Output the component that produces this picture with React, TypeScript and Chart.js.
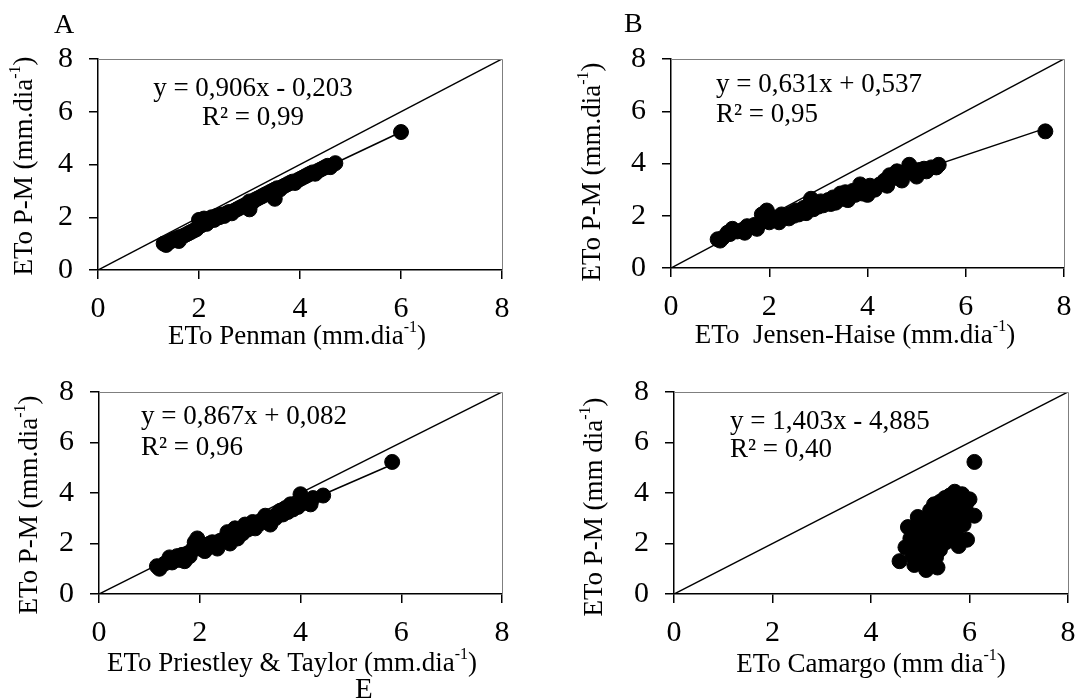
import React, { useEffect, useRef } from 'react';
import { Chart, registerables } from 'chart.js';

Chart.register(...registerables);

const FONT = "'Liberation Serif', 'Times New Roman', serif";

// ---- data ----
const tickValues = [0, 2, 4, 6, 8];
const identityLine: [number, number][] = [[0, 0], [8, 8]];

const penmanPoints: [number, number][] = [
  [1.30, 1.00], [1.35, 0.95], [1.40, 1.05], [1.45, 1.10], [1.50, 1.15], [1.55, 1.20], [1.60, 1.10], [1.62, 1.25],
  [1.70, 1.30], [1.75, 1.35], [1.80, 1.40], [1.85, 1.45], [1.90, 1.50], [1.95, 1.55], [2.00, 1.65], [2.00, 1.90],
  [2.05, 1.70], [2.10, 1.80], [2.10, 1.95], [2.15, 1.75], [2.20, 1.85], [2.25, 2.00], [2.30, 1.90], [2.35, 2.05],
  [2.40, 2.00], [2.45, 2.10], [2.50, 2.05], [2.55, 2.15], [2.60, 2.20], [2.65, 2.15], [2.70, 2.25], [2.75, 2.30],
  [2.80, 2.35], [2.85, 2.40], [2.90, 2.45], [2.95, 2.50], [3.00, 2.30], [3.00, 2.60], [3.05, 2.55], [3.10, 2.65],
  [3.15, 2.70], [3.20, 2.75], [3.25, 2.80], [3.30, 2.85], [3.35, 2.90], [3.40, 2.95], [3.45, 3.00], [3.50, 2.70],
  [3.50, 3.05], [3.55, 3.10], [3.60, 3.05], [3.65, 3.15], [3.70, 3.20], [3.75, 3.25], [3.80, 3.30], [3.85, 3.35],
  [3.90, 3.30], [3.95, 3.40], [4.00, 3.45], [4.05, 3.50], [4.10, 3.55], [4.15, 3.60], [4.20, 3.65], [4.25, 3.70],
  [4.30, 3.65], [4.35, 3.75], [4.40, 3.80], [4.45, 3.85], [4.50, 3.90], [4.55, 3.95], [4.60, 3.90], [4.70, 4.05],
  [6.00, 5.23],
];
const penmanTrend: [number, number][] = [[1.30, 0.975], [6.00, 5.233]];

const jensenPoints: [number, number][] = [
  [0.95, 1.10], [1.00, 1.05], [1.05, 1.15], [1.15, 1.35], [1.20, 1.30], [1.25, 1.50], [1.35, 1.40], [1.45, 1.45],
  [1.50, 1.35], [1.55, 1.60], [1.60, 1.55], [1.70, 1.65], [1.75, 1.50], [1.80, 1.70], [1.85, 2.05], [1.90, 1.80],
  [1.95, 2.20], [2.00, 1.75], [2.05, 1.95], [2.10, 1.85], [2.20, 1.75], [2.25, 2.05], [2.30, 1.95], [2.40, 1.90],
  [2.45, 2.10], [2.50, 2.00], [2.55, 2.20], [2.60, 2.05], [2.70, 2.30], [2.75, 2.10], [2.80, 2.40], [2.85, 2.65],
  [2.90, 2.25], [2.95, 2.50], [3.00, 2.35], [3.05, 2.55], [3.10, 2.40], [3.20, 2.60], [3.25, 2.45], [3.30, 2.70],
  [3.35, 2.50], [3.45, 2.85], [3.50, 2.65], [3.55, 2.90], [3.60, 2.60], [3.70, 2.95], [3.75, 2.80], [3.85, 3.20],
  [3.90, 2.85], [3.95, 3.05], [4.00, 2.80], [4.05, 3.15], [4.15, 3.00], [4.25, 3.20], [4.35, 3.35], [4.40, 3.15],
  [4.45, 3.55], [4.55, 3.45], [4.60, 3.70], [4.70, 3.35], [4.75, 3.60], [4.85, 3.95], [4.90, 3.65], [5.00, 3.50],
  [5.05, 3.75], [5.15, 3.80], [5.20, 3.70], [5.30, 3.85], [5.40, 3.85], [5.45, 3.95], [7.62, 5.23],
];
const jensenTrend: [number, number][] = [[0.95, 1.136], [7.62, 5.345]];

const priestleyPoints: [number, number][] = [
  [1.15, 1.10], [1.20, 1.00], [1.30, 1.20], [1.40, 1.45], [1.45, 1.25], [1.50, 1.40], [1.55, 1.50], [1.60, 1.35],
  [1.65, 1.55], [1.70, 1.30], [1.75, 1.60], [1.80, 1.50], [1.85, 1.75], [1.90, 2.05], [1.95, 2.20], [2.00, 1.80],
  [2.05, 1.95], [2.10, 1.70], [2.15, 1.85], [2.20, 2.00], [2.25, 2.05], [2.30, 1.90], [2.35, 1.80], [2.40, 2.10],
  [2.50, 2.15], [2.55, 2.45], [2.60, 2.00], [2.65, 2.35], [2.70, 2.60], [2.75, 2.20], [2.80, 2.50], [2.85, 2.40],
  [2.90, 2.75], [2.95, 2.55], [3.00, 2.65], [3.05, 2.85], [3.10, 2.60], [3.20, 2.80], [3.25, 2.95], [3.30, 3.10],
  [3.35, 2.85], [3.40, 2.75], [3.45, 3.05], [3.50, 3.00], [3.55, 3.20], [3.60, 3.30], [3.65, 3.15], [3.70, 3.40],
  [3.75, 3.25], [3.80, 3.55], [3.85, 3.35], [3.90, 3.50], [3.95, 3.45], [4.00, 3.95], [4.05, 3.60], [4.10, 3.70],
  [4.20, 3.55], [4.25, 3.80], [4.45, 3.90], [5.82, 5.23],
];
const priestleyTrend: [number, number][] = [[1.15, 1.079], [5.82, 5.128]];

const camargoPoints: [number, number][] = [
  [4.58, 1.30], [4.70, 1.85], [4.75, 2.65], [4.80, 2.20], [4.85, 1.50], [4.88, 1.15], [4.90, 2.50], [4.95, 3.05],
  [4.95, 1.90], [5.00, 2.30], [5.00, 1.40], [5.05, 2.70], [5.05, 1.75], [5.10, 2.10], [5.12, 0.95], [5.15, 2.90],
  [5.15, 1.55], [5.20, 3.30], [5.20, 2.45], [5.22, 1.25], [5.25, 2.00], [5.28, 3.55], [5.30, 2.75], [5.32, 1.45],
  [5.35, 1.05], [5.35, 3.10], [5.38, 2.30], [5.40, 3.65], [5.40, 1.75], [5.45, 2.60], [5.45, 3.35], [5.50, 3.80],
  [5.50, 2.95], [5.52, 2.05], [5.55, 3.50], [5.58, 2.40], [5.60, 3.90], [5.60, 3.15], [5.65, 2.70], [5.68, 3.60],
  [5.70, 4.05], [5.72, 2.25], [5.75, 3.30], [5.78, 1.90], [5.80, 3.75], [5.82, 2.85], [5.85, 3.95], [5.88, 2.75],
  [5.92, 3.45], [5.95, 2.15], [6.00, 3.75], [6.10, 3.10], [5.10, 1.70], [5.20, 2.70], [5.30, 2.20], [5.40, 2.95],
  [5.50, 3.30], [5.60, 2.90], [5.45, 2.00], [5.25, 1.65], [5.05, 2.45], [5.65, 3.40], [5.30, 3.25], [5.55, 2.55],
  [5.00, 1.60], [5.15, 1.35], [5.70, 3.05], [5.90, 3.20], [5.75, 2.55], [6.10, 5.23],
];
const camargoTrend: [number, number][] = [[4.58, 1.541], [6.10, 3.673]];

const equationsA = ['y = 0,906x - 0,203', 'R² = 0,99'];
const equationsB = ['y = 0,631x + 0,537', 'R² = 0,95'];
const equationsC = ['y = 0,867x + 0,082', 'R² = 0,96'];
const equationsD = ['y = 1,403x - 4,885', 'R² = 0,40'];

type Part = { t: string; sup?: boolean };
const yTitleMm: Part[] = [{ t: 'ETo P-M (mm.dia' }, { t: '-1', sup: true }, { t: ')' }];
const yTitleMmSpace: Part[] = [{ t: 'ETo P-M (mm dia' }, { t: '-1', sup: true }, { t: ')' }];
const xTitleA: Part[] = [{ t: 'ETo Penman (mm.dia' }, { t: '-1', sup: true }, { t: ')' }];
const xTitleB: Part[] = [{ t: 'ETo  Jensen-Haise (mm.dia' }, { t: '-1', sup: true }, { t: ')' }];
const xTitleC: Part[] = [{ t: 'ETo Priestley & Taylor (mm.dia' }, { t: '-1', sup: true }, { t: ')' }];
const xTitleD: Part[] = [{ t: 'ETo Camargo (mm dia' }, { t: '-1', sup: true }, { t: ')' }];

interface Spec {
  canvas: { left: number; top: number; w: number; h: number };
  area: { l: number; t: number; r: number; b: number };
  points: [number, number][];
  trend: [number, number][];
  eq: string[];
  eqAlign: 'left' | 'center';
  eqX: number;
  eqY: number[];
  xTitle: Part[];
  xTitlePos: [number, number];
  yTitle: Part[];
  yTitlePos: [number, number];
  letters: { text: string; x: number; y: number; align: 'left' | 'center'; size: number }[];
}

const specs: Spec[] = [
  {
    canvas: { left: 0, top: 0, w: 540, h: 350 },
    area: { l: 98, t: 59, r: 502, b: 270 },
    points: penmanPoints, trend: penmanTrend,
    eq: equationsA, eqAlign: 'center', eqX: 253, eqY: [89, 118],
    xTitle: xTitleA, xTitlePos: [297, 337],
    yTitle: yTitleMm, yTitlePos: [25, 166],
    letters: [{ text: 'A', x: 64, y: 33, align: 'center', size: 28 }],
  },
  {
    canvas: { left: 540, top: 0, w: 540, h: 350 },
    area: { l: 671, t: 59, r: 1064, b: 268 },
    points: jensenPoints, trend: jensenTrend,
    eq: equationsB, eqAlign: 'left', eqX: 716, eqY: [85, 115],
    xTitle: xTitleB, xTitlePos: [855, 336],
    yTitle: yTitleMm, yTitlePos: [593, 172],
    letters: [{ text: 'B', x: 624, y: 32, align: 'left', size: 28 }],
  },
  {
    canvas: { left: 0, top: 350, w: 540, h: 349 },
    area: { l: 99, t: 392, r: 502, b: 594 },
    points: priestleyPoints, trend: priestleyTrend,
    eq: equationsC, eqAlign: 'left', eqX: 141, eqY: [417, 448],
    xTitle: xTitleC, xTitlePos: [292, 664],
    yTitle: yTitleMm, yTitlePos: [30, 505],
    letters: [{ text: 'E', x: 355, y: 698, align: 'left', size: 29 }],
  },
  {
    canvas: { left: 540, top: 350, w: 540, h: 349 },
    area: { l: 674, t: 392, r: 1068, b: 594 },
    points: camargoPoints, trend: camargoTrend,
    eq: equationsD, eqAlign: 'left', eqX: 730, eqY: [422, 450],
    xTitle: xTitleD, xTitlePos: [871, 665],
    yTitle: yTitleMmSpace, yTitlePos: [595, 507],
    letters: [],
  },
];

const TITLE_SIZE = 27;
const TICK_SIZE = 30;
const EQ_SIZE = 27;

function drawParts(ctx: CanvasRenderingContext2D, parts: Part[], cx: number, cy: number, size: number) {
  const supSize = Math.round(size * 0.6);
  const widths = parts.map((p) => {
    ctx.font = `${p.sup ? supSize : size}px ${FONT}`;
    return ctx.measureText(p.t).width;
  });
  const total = widths.reduce((a, b) => a + b, 0);
  let x = cx - total / 2;
  ctx.textAlign = 'left';
  ctx.textBaseline = 'middle';
  parts.forEach((p, i) => {
    ctx.font = `${p.sup ? supSize : size}px ${FONT}`;
    ctx.fillText(p.t, x, p.sup ? cy - size * 0.33 : cy);
    x += widths[i];
  });
}

function Panel({ spec }: { spec: Spec }) {
  const ref = useRef<HTMLCanvasElement | null>(null);
  useEffect(() => {
    const canvas = ref.current;
    if (!canvas) return;
    const { canvas: c, area: a } = spec;
    const yWidth = a.l - c.left;
    const xHeight = c.top + c.h - a.b;
    const decor = {
      id: 'decor',
      afterDraw(chart: any) {
        const ctx: CanvasRenderingContext2D = chart.ctx;
        const ca = chart.chartArea;
        ctx.save();
        ctx.strokeStyle = '#7f7f7f';
        ctx.lineWidth = 1;
        ctx.beginPath();
        ctx.moveTo(ca.left, Math.round(ca.top) + 0.5);
        ctx.lineTo(Math.round(ca.right) + 0.5, Math.round(ca.top) + 0.5);
        ctx.lineTo(Math.round(ca.right) + 0.5, ca.bottom);
        ctx.stroke();
        ctx.fillStyle = '#000';
        ctx.font = `${EQ_SIZE}px ${FONT}`;
        ctx.textAlign = spec.eqAlign;
        ctx.textBaseline = 'middle';
        spec.eq.forEach((line, i) => {
          ctx.fillText(line, spec.eqX - c.left, spec.eqY[i] - c.top);
        });
        drawParts(ctx, spec.xTitle, spec.xTitlePos[0] - c.left, spec.xTitlePos[1] - c.top, TITLE_SIZE);
        ctx.save();
        ctx.translate(spec.yTitlePos[0] - c.left, spec.yTitlePos[1] - c.top);
        ctx.rotate(-Math.PI / 2);
        drawParts(ctx, spec.yTitle, 0, 0, TITLE_SIZE);
        ctx.restore();
        spec.letters.forEach((l) => {
          ctx.font = `${l.size}px ${FONT}`;
          ctx.textAlign = l.align;
          ctx.textBaseline = 'alphabetic';
          ctx.fillText(l.text, l.x - c.left, l.y - c.top);
        });
        ctx.restore();
      },
    };
    const toXY = (arr: [number, number][]) => arr.map(([x, y]) => ({ x, y }));
    const chart = new Chart(canvas, {
      type: 'scatter',
      data: {
        datasets: [
          {
            data: toXY(spec.points),
            pointRadius: 7.5,
            pointHoverRadius: 7.5,
            backgroundColor: '#000',
            borderColor: '#000',
            borderWidth: 1,
            showLine: false,
          },
          {
            data: toXY(spec.trend),
            showLine: true,
            pointRadius: 0,
            borderColor: '#000',
            borderWidth: 1.5,
          },
          {
            data: toXY(identityLine),
            showLine: true,
            pointRadius: 0,
            borderColor: '#000',
            borderWidth: 1.5,
          },
        ],
      } as any,
      options: {
        responsive: false,
        animation: false,
        events: [],
        layout: {
          padding: {
            left: 0,
            top: a.t - c.top,
            right: c.left + c.w - a.r,
            bottom: 0,
          },
        },
        plugins: { legend: { display: false }, tooltip: { enabled: false } },
        scales: {
          x: {
            type: 'linear',
            position: 'bottom',
            min: 0,
            max: 8,
            afterBuildTicks: (s: any) => {
              s.ticks = tickValues.map((v) => ({ value: v }));
            },
            ticks: { font: { family: FONT, size: TICK_SIZE }, color: '#000', padding: 12, maxRotation: 0, autoSkip: false },
            grid: { drawOnChartArea: false, drawTicks: true, tickLength: 9, color: '#000', lineWidth: 1.5 },
            border: { display: true, color: '#000', width: 1.5 },
            afterFit: (s: any) => {
              s.height = xHeight;
              s.paddingLeft = 0;
              s.paddingRight = 0;
            },
          },
          y: {
            type: 'linear',
            position: 'left',
            min: 0,
            max: 8,
            afterBuildTicks: (s: any) => {
              s.ticks = tickValues.map((v) => ({ value: v }));
            },
            ticks: { font: { family: FONT, size: TICK_SIZE }, color: '#000', padding: 16, autoSkip: false },
            grid: { drawOnChartArea: false, drawTicks: true, tickLength: 9, color: '#000', lineWidth: 1.5 },
            border: { display: true, color: '#000', width: 1.5 },
            afterFit: (s: any) => {
              s.width = yWidth;
              s.paddingTop = 0;
              s.paddingBottom = 0;
            },
          },
        },
      } as any,
      plugins: [decor],
    });
    return () => chart.destroy();
  }, [spec]);
  const { canvas: c } = spec;
  return (
    <canvas
      ref={ref}
      width={c.w}
      height={c.h}
      style={{ position: 'absolute', left: c.left, top: c.top, width: c.w, height: c.h, display: 'block' }}
    />
  );
}

export default function App() {
  return (
    <div style={{ position: 'absolute', left: 0, top: 0, width: 1080, height: 699, overflow: 'hidden', background: '#fff' }}>
      {specs.map((s, i) => (
        <Panel key={i} spec={s} />
      ))}
    </div>
  );
}
